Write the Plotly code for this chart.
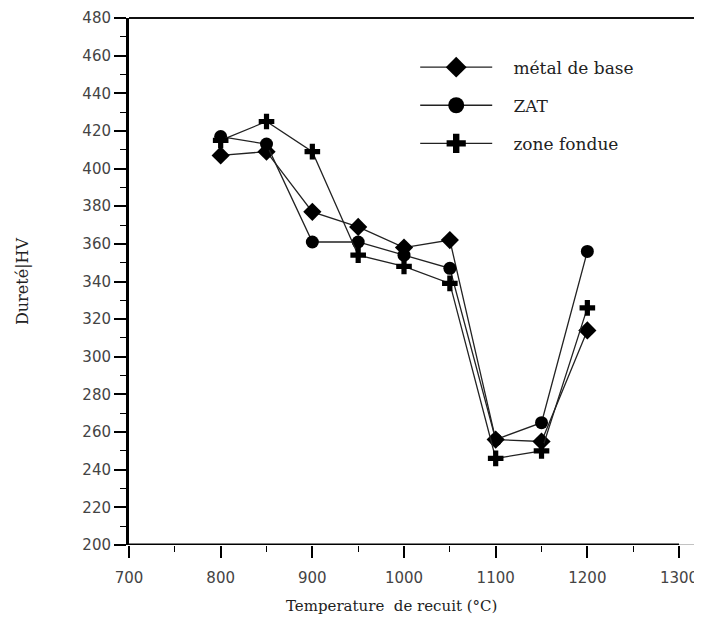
import plotly.graph_objects as go

temps = [800, 850, 900, 950, 1000, 1050, 1100, 1150, 1200]
metal_base = [407, 409, 377, 369, 358, 362, 256, 255, 314]
zat = [417, 413, 361, 361, 354, 347, 256, 265, 356]
zone_fondue = [415, 425, 409, 354, 348, 339, 246, 250, 326]

series = [
    ("métal de base", metal_base, "diamond", 14, 19),
    ("ZAT", zat, "circle", 13, 17),
    ("zone fondue", zone_fondue, "cross", 13, 17),
]

X_MIN, X_MAX_AXIS, X_MAX_FRAME = 700, 1300, 1320.7
Y_MIN, Y_MAX = 200, 480

fig = go.Figure()
for name, vals, sym, sz, lsz in series:
    fig.add_trace(go.Scatter(
        x=temps, y=vals, name=name, mode="lines+markers", showlegend=False,
        line=dict(color="#222222", width=1.3),
        marker=dict(symbol=sym, size=sz, color="black", line=dict(width=0)),
    ))
for name, vals, sym, sz, lsz in series:
    fig.add_trace(go.Scatter(
        x=[None], y=[None], name="\u00a0\u00a0\u00a0" + name, mode="lines+markers",
        legendgroup=name,
        line=dict(color="#222222", width=1.3),
        marker=dict(symbol=sym, size=lsz, color="black", line=dict(width=0)),
    ))

serif = "DejaVu Serif"
sans = "DejaVu Sans"
fig.update_layout(
    width=694, height=611,
    margin=dict(l=121, r=4, t=10, b=74, autoexpand=False),
    paper_bgcolor="white", plot_bgcolor="white",
    font=dict(family=serif, size=15, color="#222222"),
    showlegend=True,
    legend=dict(x=0.503, y=0.94, xanchor="left", yanchor="top",
                bgcolor="rgba(0,0,0,0)", itemwidth=72,
                font=dict(family=serif, size=17, color="#222222"),
                tracegroupgap=13),
    xaxis=dict(
        range=[X_MIN, X_MAX_FRAME], dtick=100, tick0=700,
        showline=False, automargin=False,
        ticks="outside", ticklen=12, tickwidth=1.5, tickcolor="black",
        minor=dict(dtick=50, ticks="outside", ticklen=6, tickwidth=1.2, tickcolor="black"),
        showgrid=False, zeroline=False,
        ticklabelstandoff=7, ticklabeloverflow="allow",
        tickfont=dict(family=sans, size=15, color="#444444"),
    ),
    yaxis=dict(
        range=[Y_MIN, Y_MAX], dtick=20, tick0=200,
        showline=True, linecolor="black", linewidth=3, mirror=False,
        automargin=False,
        ticks="outside", ticklen=12, tickwidth=1.5, tickcolor="black",
        minor=dict(dtick=10, ticks="outside", ticklen=6, tickwidth=1.2, tickcolor="black"),
        showgrid=False, zeroline=False,
        ticklabeloverflow="allow",
        tickfont=dict(family=sans, size=15, color="#444444"),
        title=dict(text="Dureté|HV", standoff=50,
                   font=dict(family=serif, size=16, color="#222222")),
    ),
    annotations=[
        dict(text="Temperature  de recuit (°C)", xref="paper", yref="paper",
             x=0.462, y=0, xanchor="center", yanchor="top", yshift=-50,
             showarrow=False, font=dict(family=serif, size=15, color="#222222")),
    ],
    shapes=[
        dict(type="line", xref="x", yref="y", x0=X_MIN, x1=X_MAX_AXIS, y0=Y_MIN, y1=Y_MIN,
             line=dict(color="black", width=3)),
        dict(type="line", xref="x", yref="y", x0=X_MAX_AXIS, x1=X_MAX_FRAME, y0=Y_MIN, y1=Y_MIN,
             line=dict(color="#999999", width=1.2)),
        dict(type="line", xref="paper", yref="paper", x0=0, x1=1, y0=1, y1=1,
             line=dict(color="#111111", width=2)),
        dict(type="line", xref="paper", yref="paper", x0=1, x1=1, y0=0, y1=1,
             line=dict(color="#777777", width=2)),
    ],
)

fig.write_html("out.html")
